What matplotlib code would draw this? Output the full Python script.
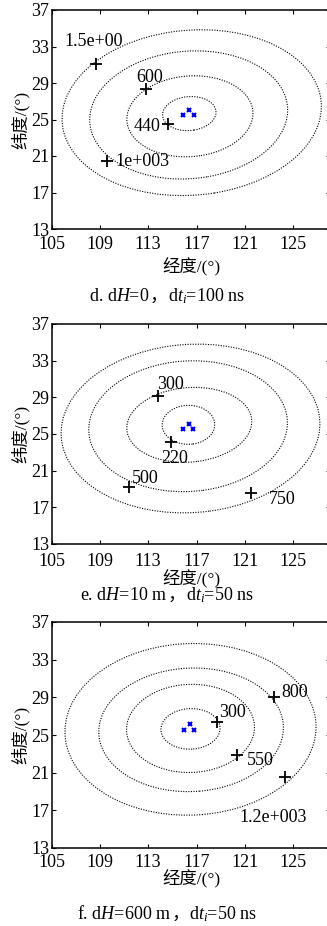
import matplotlib
matplotlib.use('Agg')
import matplotlib.pyplot as plt
from matplotlib.patches import Ellipse
from matplotlib.offsetbox import TextArea, HPacker, AnnotationBbox

plt.rcParams['font.family'] = ['Liberation Serif', 'Noto Sans CJK SC']
plt.rcParams['mathtext.fontset'] = 'custom'
plt.rcParams['mathtext.rm'] = 'Liberation Serif'
plt.rcParams['mathtext.it'] = 'Liberation Serif:italic'

# ---------------- data ----------------
x_ticks = [105, 109, 113, 117, 121, 125]
y_ticks = [13, 17, 21, 25, 29, 33, 37]
x_range = (105, 128)
y_range = (13, 37)

# ellipses: (center lon, center lat, width, height, angle)
ellipses_d = [(116.4, 25.65, 4.45, 3.7, 12), (116.45, 25.35, 10.5, 8.8, 12),
              (116.35, 25.5, 16.5, 13.9, 13), (116.6, 25.75, 21.6, 18.0, 12)]
ellipses_e = [(116.33, 26.0, 4.35, 4.25, 10), (116.4, 26.0, 10.4, 8.1, 10),
              (116.3, 25.85, 16.5, 14.2, 10), (116.5, 25.6, 21.5, 18.3, 10)]
ellipses_f = [(116.5, 25.65, 4.9, 4.3, 6), (116.5, 25.7, 10.6, 9.35, 6),
              (116.55, 25.55, 15.3, 13.1, 6), (116.5, 25.6, 20.8, 18.2, 6)]

plus_lon_d = [108.65, 112.85, 114.6, 109.6]
plus_lat_d = [31.05, 28.3, 24.47, 20.45]
lab_text_d = ['1.5e+00', '600', '440', '1e+003']
lab_lon_d = [108.45, 113.1, 112.9, 112.5]
lab_lat_d = [33.5, 29.6, 24.2, 20.4]

plus_lon_e = [113.8, 114.9, 111.4, 121.47]
plus_lat_e = [29.1, 24.1, 19.25, 18.56]
lab_text_e = ['300', '220', '500', '750']
lab_lon_e = [114.85, 115.2, 112.72, 124.1]
lab_lat_e = [30.45, 22.35, 20.1, 17.9]

plus_lon_f = [118.7, 120.34, 123.4, 124.3]
plus_lat_f = [26.41, 22.85, 29.03, 20.55]
lab_text_f = ['300', '550', '800', '1.2e+003']
lab_lon_f = [120.0, 122.3, 125.1, 123.3]
lab_lat_f = [27.37, 22.24, 29.56, 16.24]

sta_lon_d = [115.9, 116.4, 116.8]
sta_lat_d = [25.5, 26.07, 25.5]
sta_lon_e = [115.87, 116.34, 116.7]
sta_lat_e = [25.5, 26.1, 25.5]
sta_lon_f = [116.0, 116.47, 116.83]
sta_lat_f = [25.5, 26.13, 25.5]

caption_parts_d = ['d. d$H$=0', '，', 'd$t_i$=100 ns']
caption_parts_e = ['e. d$H$=10 m', '，', 'd$t_i$=50 ns']
caption_parts_f = ['f. d$H$=600 m', '，', 'd$t_i$=50 ns']

x_label = '经度/(°)'
y_label = '纬度/(°)'

# ---------------- layout (pixels) ----------------
W, H = 327, 926
fig = plt.figure(figsize=(W / 100, H / 100), dpi=100)

ax_left = 51.5
ax_right = 329.5
panels = [
    dict(top=10, bottom=229, ell=ellipses_d, plon=plus_lon_d, plat=plus_lat_d,
         lt=lab_text_d, llon=lab_lon_d, llat=lab_lat_d, slon=sta_lon_d, slat=sta_lat_d,
         cap=caption_parts_d, xl_y=267, cap_y=296, xpad=5.0),
    dict(top=324, bottom=544, ell=ellipses_e, plon=plus_lon_e, plat=plus_lat_e,
         lt=lab_text_e, llon=lab_lon_e, llat=lab_lat_e, slon=sta_lon_e, slat=sta_lat_e,
         cap=caption_parts_e, xl_y=579, cap_y=595, xpad=6.5),
    dict(top=622, bottom=848, ell=ellipses_f, plon=plus_lon_f, plat=plus_lat_f,
         lt=lab_text_f, llon=lab_lon_f, llat=lab_lat_f, slon=sta_lon_f, slat=sta_lat_f,
         cap=caption_parts_f, xl_y=879, cap_y=914, xpad=4.5),
]

tick_fs = 13
lab_fs = 13

for p in panels:
    ax = fig.add_axes([ax_left / W, 1 - p['bottom'] / H,
                       (ax_right - ax_left) / W, (p['bottom'] - p['top']) / H])
    ax.set_xlim(*x_range)
    ax.set_ylim(*y_range)
    ax.set_xticks(x_ticks)
    ax.set_yticks(y_ticks)
    ax.tick_params(direction='in', top=True, right=True, length=3, width=0.8,
                   labelsize=tick_fs)
    ax.tick_params(axis='x', pad=p['xpad'])
    ax.tick_params(axis='y', pad=1.5)
    for s in ax.spines.values():
        s.set_linewidth(1.1)
    for (cx, cy, w, h, ang) in p['ell']:
        ax.add_patch(Ellipse((cx, cy), w, h, angle=ang, fill=False, edgecolor='k',
                             linewidth=0.8, linestyle=(0, (1, 1.3))))
    ax.plot(p['plon'], p['plat'], linestyle='none', marker='+', color='k',
            markersize=8, markeredgewidth=1.3)
    for t, lx, ly in zip(p['lt'], p['llon'], p['llat']):
        ax.text(lx, ly, t, fontsize=lab_fs, ha='center', va='center')
    ax.plot(p['slon'], p['slat'], linestyle='none', marker='x', color='blue',
            markersize=3.5, markeredgewidth=1.5)

    fig.text(191 / W, 1 - p['xl_y'] / H, x_label, fontsize=12.5,
             ha='center', va='center')
    fig.text(20 / W, 1 - (p['top'] + p['bottom']) / 2 / H, y_label,
             fontsize=12.5, rotation=90, ha='center', va='center')

    c1, c2, c3 = p['cap']
    areas = [TextArea(c1, textprops=dict(fontsize=lab_fs)),
             TextArea(c2, textprops=dict(fontsize=lab_fs, family=['Noto Sans CJK SC'])),
             TextArea(c3, textprops=dict(fontsize=lab_fs))]
    box = HPacker(children=areas, align='baseline', pad=0, sep=0)
    ab = AnnotationBbox(box, (167 / W, 1 - p['cap_y'] / H), xycoords='figure fraction',
                        frameon=False, box_alignment=(0.5, 0.5), pad=0)
    fig.add_artist(ab)

fig.savefig('out.png', dpi=100)
